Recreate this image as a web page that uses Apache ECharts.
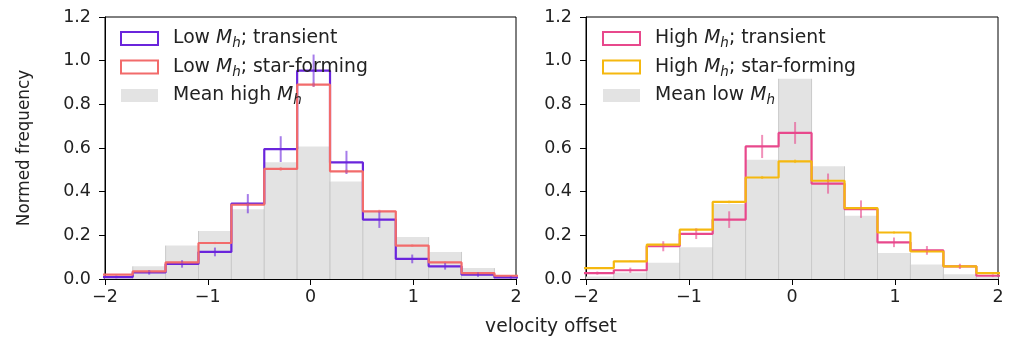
<!DOCTYPE html>
<html>
<head>
<meta charset="utf-8">
<script src="https://cdn.jsdelivr.net/npm/echarts@6/dist/echarts.min.js"></script>
<style>
  html, body { margin: 0; padding: 0; background: #fff; }
  #chart { width: 1013px; height: 338px; }
</style>
</head>
<body>
<div id="chart"></div>
<script>
// bin edges of the velocity-offset histograms
const binEdges = [-2.05, -1.73, -1.41, -1.09, -0.77, -0.45, -0.13, 0.19, 0.51, 0.83, 1.15, 1.47, 1.79, 2.11];

// left panel: low Mh
const lowTransient = [0.009, 0.03, 0.069, 0.124, 0.345, 0.595, 0.954, 0.534, 0.272, 0.092, 0.058, 0.02, 0.007];
const lowTransientErr = [0.006, 0.01, 0.017, 0.02, 0.044, 0.059, 0.074, 0.053, 0.038, 0.02, 0.015, 0.01, 0.006];
const lowStarForming = [0.02, 0.035, 0.076, 0.165, 0.34, 0.504, 0.89, 0.493, 0.31, 0.153, 0.076, 0.027, 0.015];
const lowStarFormingErr = [0.002, 0.003, 0.004, 0.005, 0.007, 0.008, 0.01, 0.008, 0.007, 0.005, 0.004, 0.003, 0.002];
const meanHigh = [0.015, 0.058, 0.153, 0.22, 0.32, 0.535, 0.607, 0.446, 0.31, 0.192, 0.124, 0.05, 0.015];

// right panel: high Mh
const highTransient = [0.027, 0.04, 0.15, 0.207, 0.272, 0.607, 0.669, 0.437, 0.32, 0.168, 0.131, 0.058, 0.015];
const highTransientErr = [0.007, 0.012, 0.023, 0.024, 0.038, 0.053, 0.05, 0.046, 0.04, 0.022, 0.02, 0.012, 0.006];
const highStarForming = [0.05, 0.081, 0.157, 0.226, 0.353, 0.465, 0.539, 0.45, 0.325, 0.213, 0.126, 0.058, 0.027];
const highStarFormingErr = [0.002, 0.003, 0.004, 0.005, 0.006, 0.007, 0.008, 0.007, 0.006, 0.005, 0.004, 0.003, 0.002];
const meanLow = [0.012, 0.03, 0.075, 0.145, 0.343, 0.546, 0.917, 0.516, 0.29, 0.119, 0.066, 0.022, 0.01];

const FONT = 'DejaVu Sans';
const TXT = '#222';
const C_LOW_T = '#6a25dc';
const C_LOW_S = '#f26b6b';
const C_HIGH_T = '#e8488c';
const C_HIGH_S = '#f5b80f';
const C_GRAY = '#e3e3e3';

function stepData(vals) {
  const d = vals.map((v, i) => [binEdges[i], v]);
  d.push([binEdges[vals.length], vals[vals.length - 1]]);
  return d;
}
function barData(vals) {
  return vals.map((v, i) => [binEdges[i], binEdges[i + 1], v]);
}
function errData(vals, errs) {
  return vals.map((v, i) => [(binEdges[i] + binEdges[i + 1]) / 2, v, errs[i]]);
}

function stepSeries(name, vals, color, idx) {
  return {
    name: name, type: 'line', step: 'end', xAxisIndex: idx, yAxisIndex: idx,
    data: stepData(vals), showSymbol: false, symbol: 'none', clip: true,
    lineStyle: { color: color, width: 2.2 }, itemStyle: { color: color },
    z: 3
  };
}
function barSeries(name, vals, idx) {
  return {
    name: name, type: 'custom', xAxisIndex: idx, yAxisIndex: idx, clip: true,
    itemStyle: { color: C_GRAY },
    encode: { x: [0, 1], y: 2 },
    data: barData(vals),
    renderItem: function (params, api) {
      const p0 = api.coord([api.value(0), api.value(2)]);
      const p1 = api.coord([api.value(1), 0]);
      return {
        type: 'group',
        children: [
          { type: 'rect', shape: { x: p0[0], y: p0[1], width: p1[0] - p0[0], height: p1[1] - p0[1] },
            style: { fill: C_GRAY } },
          { type: 'line', shape: { x1: p0[0], y1: p0[1], x2: p0[0], y2: p1[1] },
            style: { stroke: '#cacaca', lineWidth: 1 } },
          { type: 'line', shape: { x1: p1[0], y1: p0[1], x2: p1[0], y2: p1[1] },
            style: { stroke: '#cacaca', lineWidth: 1 } }
        ]
      };
    },
    z: 1
  };
}
function errSeries(vals, errs, color, idx) {
  return {
    type: 'custom', xAxisIndex: idx, yAxisIndex: idx, clip: true,
    encode: { x: 0, y: 1 },
    data: errData(vals, errs),
    renderItem: function (params, api) {
      const x = api.value(0), v = api.value(1), e = api.value(2);
      const a = api.coord([x, v - e]);
      const b = api.coord([x, v + e]);
      return { type: 'line', shape: { x1: a[0], y1: a[1], x2: b[0], y2: b[1] },
        style: { stroke: color, lineWidth: 2, opacity: 0.6 } };
    },
    z: 4
  };
}

function xAxis(idx) {
  return {
    type: 'value', gridIndex: idx, min: -2, max: 2, interval: 1,
    axisLine: { show: true, onZero: false, lineStyle: { color: '#000', width: 1 } },
    axisTick: { show: true, length: 6, lineStyle: { color: '#000' } },
    splitLine: { show: false },
    axisLabel: {
      fontFamily: FONT, fontSize: 17.5, color: TXT, margin: 9,
      formatter: v => (v < 0 ? '\u2212' + (-v) : String(v))
    }
  };
}
function yAxis(idx, withName) {
  return {
    type: 'value', gridIndex: idx, min: 0, max: 1.2, interval: 0.2,
    name: withName ? 'Normed frequency' : '',
    nameLocation: 'middle', nameGap: 72,
    nameTextStyle: { fontFamily: FONT, fontSize: 16.8, color: TXT },
    axisLine: { show: true, onZero: false, lineStyle: { color: '#000', width: 1 } },
    axisTick: { show: true, length: 6, lineStyle: { color: '#000' } },
    splitLine: { show: false },
    axisLabel: {
      fontFamily: FONT, fontSize: 17.5, color: TXT, margin: 14,
      formatter: v => v.toFixed(1)
    }
  };
}

const legendRich = {
  gap: { width: 10 },
  it: { fontFamily: FONT, fontSize: 18.8, fontStyle: 'italic', color: TXT },
  sub: { fontFamily: FONT, fontSize: 13.5, fontStyle: 'italic', color: TXT, padding: [10, 0, 0, 0] }
};
function legendLabel(name) {
  return '{gap|}' + name.replace('Mh', '{it|M}{sub|h}');
}
function legend(left, names, colors) {
  return {
    orient: 'vertical', left: left, top: 24, itemWidth: 37, itemHeight: 13, itemGap: 7,
    selectedMode: false,
    textStyle: { fontFamily: FONT, fontSize: 18.8, color: TXT, rich: legendRich },
    formatter: legendLabel,
    data: names.map((n, i) => i < 2
      ? { name: n, icon: 'rect', itemStyle: { color: 'rgba(0,0,0,0)', borderColor: colors[i], borderWidth: 2 } }
      : { name: n, icon: 'rect', itemStyle: { color: C_GRAY, borderWidth: 0 } })
  };
}

const chart = echarts.init(document.getElementById('chart'), null, { renderer: 'canvas' });
chart.setOption({
  animation: false,
  backgroundColor: '#fff',
  grid: [
    { left: 105, top: 17, width: 411, height: 262, show: true, borderColor: '#000', borderWidth: 1, backgroundColor: 'transparent' },
    { left: 586, top: 17, width: 412, height: 262, show: true, borderColor: '#000', borderWidth: 1, backgroundColor: 'transparent' }
  ],
  xAxis: [xAxis(0), xAxis(1)],
  yAxis: [yAxis(0, true), yAxis(1, false)],
  legend: [
    legend(115, ['Low Mh; transient', 'Low Mh; star-forming', 'Mean high Mh'], [C_LOW_T, C_LOW_S]),
    legend(597, ['High Mh; transient', 'High Mh; star-forming', 'Mean low Mh'], [C_HIGH_T, C_HIGH_S])
  ],
  graphic: [{
    type: 'text', x: 551, y: 327,
    style: { text: 'velocity offset', fontFamily: FONT, fontSize: 18.7, fill: TXT, align: 'center', verticalAlign: 'middle' }
  }],
  series: [
    barSeries('Mean high Mh', meanHigh, 0),
    stepSeries('Low Mh; transient', lowTransient, C_LOW_T, 0),
    stepSeries('Low Mh; star-forming', lowStarForming, C_LOW_S, 0),
    errSeries(lowTransient, lowTransientErr, C_LOW_T, 0),
    errSeries(lowStarForming, lowStarFormingErr, C_LOW_S, 0),
    barSeries('Mean low Mh', meanLow, 1),
    stepSeries('High Mh; transient', highTransient, C_HIGH_T, 1),
    stepSeries('High Mh; star-forming', highStarForming, C_HIGH_S, 1),
    errSeries(highTransient, highTransientErr, C_HIGH_T, 1),
    errSeries(highStarForming, highStarFormingErr, C_HIGH_S, 1)
  ]
});
</script>
</body>
</html>
